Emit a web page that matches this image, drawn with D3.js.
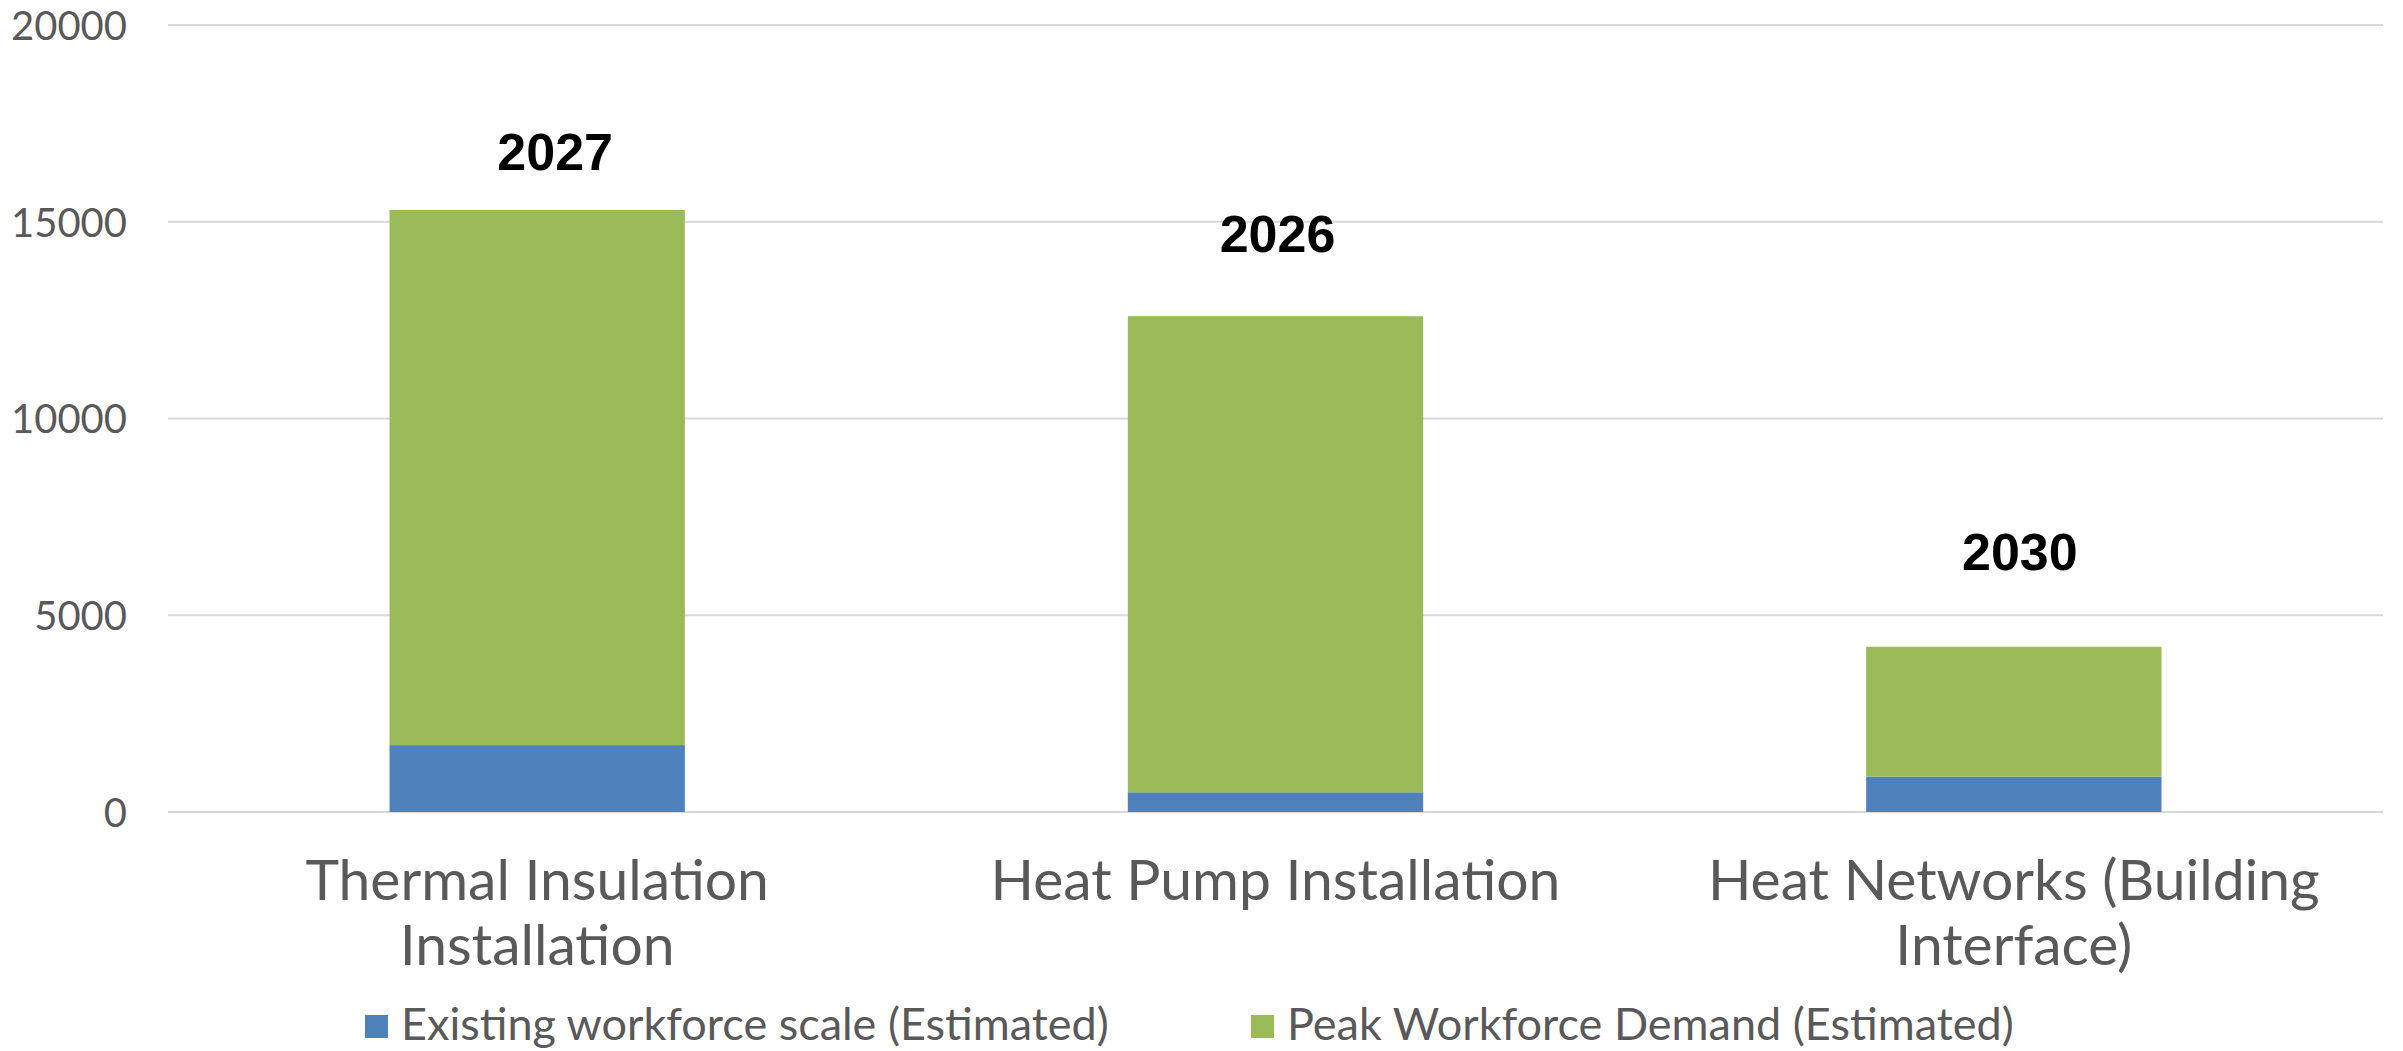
<!DOCTYPE html>
<html>
<head>
<meta charset="utf-8">
<script src="https://cdn.jsdelivr.net/npm/d3@7"></script>
<style>
  body { margin: 0; background: #fff; }
  text { font-family: Lato, "Open Sans", sans-serif; }
</style>
</head>
<body>
<div id="chart"></div>
<script>
// chart data
var categories = [
  ["Thermal Insulation", "Installation"],
  ["Heat Pump Installation"],
  ["Heat Networks (Building", "Interface)"]
];
var existingWorkforce = [1700, 500, 900];
var peakDemand = [13600, 12100, 3300];
var peakYears = ["2027", "2026", "2030"];
var seriesNames = ["Existing workforce scale (Estimated)", "Peak Workforce Demand (Estimated)"];
var yTicks = [0, 5000, 10000, 15000, 20000];

var colors = ["#4F81BD", "#9BBB59"];

var width = 2403, height = 1051;
var margin = { top: 25, right: 20, bottom: 239, left: 168 };

var svg = d3.select("#chart")
  .append("svg")
  .attr("width", width)
  .attr("height", height);

var x = d3.scaleBand()
  .domain(d3.range(categories.length))
  .range([margin.left, width - margin.right])
  .paddingInner(0.6)
  .paddingOuter(0.3);

var y = d3.scaleLinear()
  .domain([0, 20000])
  .range([height - margin.bottom, margin.top]);

// gridlines
svg.append("g")
  .selectAll("line")
  .data(yTicks)
  .enter()
  .append("line")
  .attr("x1", margin.left)
  .attr("x2", width - margin.right)
  .attr("y1", d => y(d))
  .attr("y2", d => y(d))
  .attr("stroke", "#D9D9D9")
  .attr("stroke-width", 2);

// y axis labels
var yAxis = svg.append("g")
  .attr("transform", "translate(" + (margin.left - 41) + ",0)")
  .call(d3.axisLeft(y).tickValues(yTicks).tickSize(0).tickPadding(0).tickFormat(d3.format("d")));
yAxis.select(".domain").remove();
yAxis.selectAll("text")
  .attr("fill", "#595959")
  .style("font-size", "40px")
  .attr("dy", "0.36em");

// stacked bars
var table = categories.map((c, i) => ({ i: i, existing: existingWorkforce[i], peak: peakDemand[i] }));
var stack = d3.stack().keys(["existing", "peak"])(table);

svg.append("g")
  .selectAll("g")
  .data(stack)
  .enter()
  .append("g")
  .attr("fill", (d, k) => colors[k])
  .selectAll("rect")
  .data(d => d)
  .enter()
  .append("rect")
  .attr("x", d => x(d.data.i))
  .attr("width", x.bandwidth())
  .attr("y", d => y(d[1]))
  .attr("height", d => y(d[0]) - y(d[1]));

// year callouts (hand placed textboxes in the original)
var yearNudge = [[18, 40], [2, 64], [6, 77]];
svg.append("g")
  .selectAll("text")
  .data(peakYears)
  .enter()
  .append("text")
  .attr("x", (d, i) => x(i) + x.bandwidth() / 2 + yearNudge[i][0])
  .attr("y", (d, i) => y(existingWorkforce[i] + peakDemand[i]) - yearNudge[i][1])
  .attr("text-anchor", "middle")
  .style("font-family", "'Liberation Sans', Arial, sans-serif")
  .style("font-weight", "bold")
  .style("font-size", "52px")
  .attr("fill", "#000")
  .text(d => d);

// category labels
var catLabels = svg.append("g")
  .selectAll("text")
  .data(categories)
  .enter()
  .append("text")
  .attr("text-anchor", "middle")
  .attr("fill", "#595959")
  .style("font-size", "57px")
  .attr("x", (d, i) => x(i) + x.bandwidth() / 2)
  .attr("y", y(0) + 88);
catLabels.selectAll("tspan")
  .data(d => d)
  .enter()
  .append("tspan")
  .attr("x", function () { return this.parentNode.getAttribute("x"); })
  .attr("dy", (d, j) => j === 0 ? 0 : 65)
  .text(d => d);

// legend
var legendX = [365, 1251];
var legend = svg.append("g")
  .selectAll("g")
  .data(seriesNames)
  .enter()
  .append("g")
  .attr("transform", (d, i) => "translate(" + legendX[i] + ",1015)");
legend.append("rect")
  .attr("width", 23)
  .attr("height", 23)
  .attr("fill", (d, i) => colors[i]);
legend.append("text")
  .attr("x", 36)
  .attr("y", 25)
  .attr("fill", "#595959")
  .style("font-size", "45px")
  .text(d => d);
</script>
</body>
</html>
